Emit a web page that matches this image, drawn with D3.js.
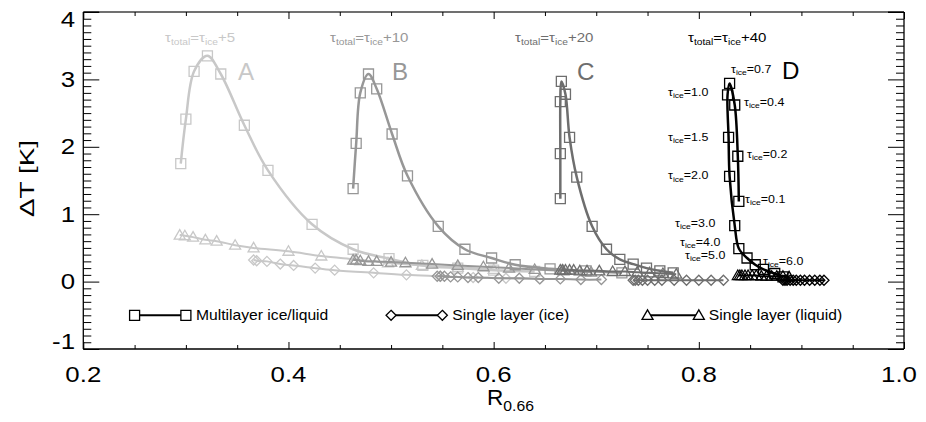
<!DOCTYPE html>
<html>
<head>
<meta charset="utf-8">
<script src="https://cdn.jsdelivr.net/npm/d3@7"></script>
<style>
  body { margin: 0; background: #fff; }
  svg text { font-family: "Liberation Sans", Arial, Helvetica, sans-serif; }
</style>
</head>
<body>
<svg id="chart" width="926" height="422"></svg>
<script>
// axis ticks
const xMajor = [0.2, 0.4, 0.6, 0.8, 1.0];
const yMajor = [-1, 0, 1, 2, 3, 4];

// the four cases
const groupNames = ["A", "B", "C", "D"];
const groupColors = ["#c8c8c8", "#979797", "#6e6e6e", "#000000"];
const tauTotal = ["+5", "+10", "+20", "+40"];

// multilayer ice/liquid (squares): R0.66 and dT
const multiA_R = [0.295, 0.300, 0.308, 0.321, 0.334, 0.357, 0.380, 0.423, 0.463, 0.498, 0.531, 0.565, 0.600, 0.640];
const multiA_T = [1.75, 2.41, 3.12, 3.35, 3.08, 2.32, 1.65, 0.85, 0.48, 0.34, 0.24, 0.20, 0.17, 0.15];
const multiB_R = [0.463, 0.466, 0.470, 0.478, 0.486, 0.501, 0.516, 0.546, 0.572, 0.598, 0.621, 0.655, 0.690, 0.725];
const multiB_T = [1.38, 2.05, 2.80, 3.08, 2.86, 2.19, 1.57, 0.82, 0.48, 0.35, 0.25, 0.19, 0.16, 0.13];
const multiC_R = [0.665, 0.665, 0.665, 0.666, 0.670, 0.674, 0.681, 0.696, 0.710, 0.723, 0.736, 0.749, 0.762, 0.775];
const multiC_T = [1.23, 1.90, 2.67, 2.97, 2.78, 2.14, 1.55, 0.82, 0.48, 0.33, 0.26, 0.20, 0.16, 0.13];
const multiD_R = [0.839, 0.838, 0.835, 0.830, 0.828, 0.829, 0.830, 0.835, 0.839, 0.847, 0.855, 0.863, 0.874, 0.882];
const multiD_T = [1.19, 1.86, 2.62, 2.94, 2.77, 2.14, 1.56, 0.83, 0.49, 0.35, 0.25, 0.18, 0.12, 0.07];

// single layer ice (diamonds)
const iceA_R = [0.366, 0.369, 0.379, 0.392, 0.405, 0.426, 0.445, 0.483, 0.515, 0.548, 0.580, 0.612, 0.645];
const iceA_T = [0.32, 0.31, 0.30, 0.26, 0.24, 0.20, 0.17, 0.13, 0.10, 0.08, 0.06, 0.05, 0.04];
const iceB_R = [0.545, 0.548, 0.552, 0.558, 0.565, 0.575, 0.585, 0.605, 0.625, 0.645, 0.665, 0.685, 0.705];
const iceB_T = [0.08, 0.08, 0.08, 0.07, 0.07, 0.06, 0.06, 0.05, 0.05, 0.04, 0.04, 0.03, 0.03];
const iceC_R = [0.736, 0.738, 0.741, 0.745, 0.750, 0.757, 0.764, 0.776, 0.788, 0.800, 0.812, 0.824];
const iceC_T = [0.02, 0.02, 0.02, 0.02, 0.02, 0.02, 0.02, 0.02, 0.02, 0.02, 0.02, 0.02];
const iceD_R = [0.882, 0.884, 0.886, 0.889, 0.892, 0.895, 0.899, 0.903, 0.908, 0.913, 0.918, 0.922];
const iceD_T = [0.02, 0.02, 0.02, 0.02, 0.02, 0.02, 0.02, 0.02, 0.02, 0.02, 0.02, 0.02];

// single layer liquid (triangles)
const liqA_R = [0.294, 0.299, 0.307, 0.319, 0.330, 0.348, 0.366, 0.400, 0.432, 0.465, 0.497, 0.530, 0.565, 0.600];
const liqA_T = [0.69, 0.68, 0.66, 0.62, 0.60, 0.54, 0.50, 0.45, 0.38, 0.33, 0.28, 0.24, 0.21, 0.18];
const liqB_R = [0.463, 0.466, 0.470, 0.478, 0.486, 0.500, 0.514, 0.540, 0.565, 0.590, 0.615, 0.640, 0.668, 0.695];
const liqB_T = [0.32, 0.32, 0.31, 0.30, 0.30, 0.29, 0.28, 0.26, 0.24, 0.22, 0.20, 0.18, 0.16, 0.14];
const liqC_R = [0.665, 0.667, 0.670, 0.674, 0.678, 0.684, 0.691, 0.703, 0.716, 0.728, 0.740, 0.752, 0.765, 0.778];
const liqC_T = [0.17, 0.17, 0.17, 0.17, 0.17, 0.16, 0.16, 0.16, 0.15, 0.15, 0.14, 0.13, 0.12, 0.11];
const liqD_R = [0.838, 0.840, 0.842, 0.845, 0.848, 0.852, 0.856, 0.861, 0.866, 0.871, 0.876, 0.882, 0.888];
const liqD_T = [0.09, 0.09, 0.09, 0.09, 0.09, 0.09, 0.09, 0.08, 0.08, 0.08, 0.08, 0.08, 0.07];

// tau_ice annotations of case D
const dLabels = ["0.7", "1.0", "0.4", "1.5", "0.2", "2.0", "0.1", "3.0", "4.0", "5.0", "6.0"];
const dLabelPos = [[731, 72.7], [668, 96], [744, 106], [668, 140.7], [747, 158], [668, 179.3],
                   [745, 202.7], [675, 226.7], [680, 245.5], [685, 259], [763, 265]];

const legendNames = ["Multilayer ice/liquid", "Single layer (ice)", "Single layer (liquid)"];
const legendR = [[0.25, 0.30], [0.50, 0.55], [0.75, 0.80]];
const legendT = -0.5;

const zip = (r, t) => r.map((v, i) => [v, t[i]]);
const groups = [
    {multi: zip(multiA_R, multiA_T), ice: zip(iceA_R, iceA_T), liq: zip(liqA_R, liqA_T)},
    {multi: zip(multiB_R, multiB_T), ice: zip(iceB_R, iceB_T), liq: zip(liqB_R, liqB_T)},
    {multi: zip(multiC_R, multiC_T), ice: zip(iceC_R, iceC_T), liq: zip(liqC_R, liqC_T)},
    {multi: zip(multiD_R, multiD_T), ice: zip(iceD_R, iceD_T), liq: zip(liqD_R, liqD_T)}
];

const pLeft = 83.3, pRight = 904, pTop = 12, pBottom = 349;
const x = d3.scaleLinear().domain([0.2, 1.0]).range([pLeft, pRight]);
const y = d3.scaleLinear().domain([-1, 4]).range([pBottom, pTop]);

const svg = d3.select("#chart");

const shapes = {
    square: "M-5,-5h10v10h-10Z",
    diamond: "M0,-5L5,0L0,5L-5,0Z",
    triangle: "M0,-5.5L5.5,4L-5.5,4Z"
};

const line = d3.line()
    .x(d => x(d[0]))
    .y(d => y(d[1]))
    .curve(d3.curveCatmullRom.alpha(0.5));

function drawSeries(data, color, shape, width) {
    const g = svg.append("g");
    g.append("path")
        .datum(data)
        .attr("d", line)
        .attr("fill", "none")
        .attr("stroke", color)
        .attr("stroke-width", width);
    g.selectAll("path.pt")
        .data(data)
        .enter().append("path")
        .attr("class", "pt")
        .attr("d", shapes[shape])
        .attr("transform", d => `translate(${x(d[0])},${y(d[1])})`)
        .attr("fill", "none")
        .attr("stroke", color)
        .attr("stroke-width", 1.3);
}

// scaled text helper (the original fonts are wider than Arial)
function stext(x0, y0, sx, anchor, size, color) {
    return svg.append("g")
        .attr("transform", `translate(${x0},${y0}) scale(${sx},1)`)
        .append("text")
        .attr("text-anchor", anchor)
        .attr("font-size", size)
        .attr("fill", color || "#000");
}

// data
groups.forEach((g, i) => {
    drawSeries(g.ice, groupColors[i], "diamond", 2);
    drawSeries(g.liq, groupColors[i], "triangle", 2);
    drawSeries(g.multi, groupColors[i], "square", 2.5);
});

// legend
legendNames.forEach((name, i) => {
    const shape = ["square", "diamond", "triangle"][i];
    const pts = legendR[i].map(r => [r, legendT]);
    const g = svg.append("g");
    g.append("line")
        .attr("x1", x(pts[0][0])).attr("x2", x(pts[1][0]))
        .attr("y1", y(legendT)).attr("y2", y(legendT))
        .attr("stroke", "#000").attr("stroke-width", 2);
    g.selectAll("path").data(pts).enter().append("path")
        .attr("d", shapes[shape])
        .attr("transform", d => `translate(${x(d[0])},${y(d[1])})`)
        .attr("fill", "#fff").attr("stroke", "#000").attr("stroke-width", 1.3);
    stext(x(legendR[i][1]) + 10, y(legendT) + 5, 1.12, "start", 14).text(name);
});

// case labels
const topLabelX = [165, 330, 515, 688];
const letterX = [238, 392, 577, 782];
const letterY = [80, 79.5, 80, 78.5];
groupNames.forEach((n, i) => {
    const t = stext(topLabelX[i], 41.7, 1.2, "start", 12.5, groupColors[i]);
    t.append("tspan").text("τ");
    t.append("tspan").text("total").attr("font-size", 8.5).attr("dy", 3);
    t.append("tspan").text("=τ").attr("dy", -3);
    t.append("tspan").text("ice").attr("font-size", 8.5).attr("dy", 3);
    t.append("tspan").text(tauTotal[i]).attr("dy", -3);
    stext(letterX[i], letterY[i], 1.05, "start", 23, groupColors[i]).text(n);
});

dLabels.forEach((v, i) => {
    const t = stext(dLabelPos[i][0], dLabelPos[i][1], 1.22, "start", 10.2);
    t.append("tspan").text("τ");
    t.append("tspan").text("ice").attr("font-size", 7).attr("dy", 2.3);
    t.append("tspan").text("=" + v).attr("dy", -2.3);
});

// axes: frame
const frame = svg.append("g").attr("stroke", "#000").attr("stroke-width", 1.3);
frame.append("line").attr("x1", pLeft).attr("x2", pRight).attr("y1", pBottom).attr("y2", pBottom);
frame.append("line").attr("x1", pLeft).attr("x2", pLeft).attr("y1", pTop).attr("y2", pBottom);
frame.append("line").attr("x1", pRight).attr("x2", pRight).attr("y1", pTop).attr("y2", pBottom);
frame.append("line").attr("x1", pLeft).attr("x2", pRight).attr("y1", pTop).attr("y2", pTop);
svg.append("line").attr("x1", 99).attr("x2", 888).attr("y1", pTop).attr("y2", pTop)
    .attr("stroke", "#808080").attr("stroke-width", 1.4);

const xMinor = d3.range(0.25, 1.0, 0.05).filter(v => Math.abs(v * 5 - Math.round(v * 5)) > 1e-6);
const yMinor = d3.range(-0.9, 4.0, 0.1).filter(v => Math.abs(v - Math.round(v)) > 1e-6);

function tickAxis(axis, scale, vals, size, tr) {
    svg.append("g")
        .attr("transform", tr)
        .call(axis(scale).tickValues(vals).tickSize(-size).tickFormat(""))
        .call(g => g.select(".domain").remove())
        .call(g => g.selectAll(".tick line").attr("stroke", "#000").attr("stroke-width", 1));
}
tickAxis(d3.axisBottom, x, xMajor, 7, `translate(0,${pBottom})`);
tickAxis(d3.axisBottom, x, xMinor, 4, `translate(0,${pBottom})`);
tickAxis(d3.axisTop, x, xMajor, 7, `translate(0,${pTop})`);
tickAxis(d3.axisTop, x, xMinor, 4, `translate(0,${pTop})`);
tickAxis(d3.axisLeft, y, yMajor, 16, `translate(${pLeft},0)`);
tickAxis(d3.axisLeft, y, yMinor, 8, `translate(${pLeft},0)`);
tickAxis(d3.axisRight, y, yMajor, 16, `translate(${pRight},0)`);
tickAxis(d3.axisRight, y, yMinor, 8, `translate(${pRight},0)`);

// tick labels
xMajor.forEach(v => {
    const dx = v === 1.0 ? -5 : 0;
    stext(x(v) + dx, 382, 1.2, "middle", 21.5).text(d3.format(".1f")(v));
});
yMajor.forEach(v => {
    let yy = y(v) + 7.5;
    if (v === 4) yy = y(v) + 15;
    if (v === -1) yy = y(v);
    stext(75, yy, 1.2, "end", 21.5).text(String(v));
});

// axis titles
svg.append("g")
    .attr("transform", `translate(33.5,${(pTop + pBottom) / 2 - 2}) rotate(-90) scale(1.33,1)`)
    .append("text")
    .attr("text-anchor", "middle")
    .attr("font-size", 21)
    .text("ΔT [K]");

const xt = stext(487, 405, 1.05, "start", 21.5);
xt.append("tspan").text("R");
xt.append("tspan").text("0.66").attr("font-size", 15).attr("dy", 6);
</script>
</body>
</html>
